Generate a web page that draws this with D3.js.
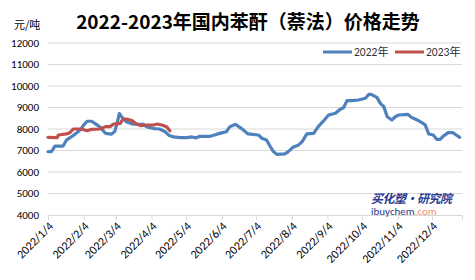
<!DOCTYPE html>
<html>
<head>
<meta charset="utf-8">
<script src="https://cdn.jsdelivr.net/npm/d3@7"></script>
<style>
    body { margin: 0; background: #fff; }
    text { font-family: Calibri, Carlito, "Liberation Sans", "Noto Sans CJK SC", sans-serif; }
</style>
</head>
<body>
<div id="chart"></div>
<script>
// 2022 series, month-day on the 2022 axis
const dates2022 = ['01-04','01-07','01-10','01-17','01-20','01-26','02-01','02-04','02-07','02-11','02-14','02-18','02-23','02-28','03-03','03-05','03-07','03-09','03-13','03-19','03-28','03-31','04-06','04-11','04-16','04-19','04-23','04-29','05-05','05-09','05-13','05-16','05-25','05-31','06-04','06-08','06-11','06-16','06-21','06-27','07-06','07-09','07-13','07-16','07-19','07-22','07-29','08-01','08-05','08-10','08-13','08-17','08-23','08-27','08-31','09-05','09-11','09-15','09-18','09-21','09-25','10-01','10-07','10-10','10-12','10-17','10-20','10-23','10-26','10-30','11-02','11-05','11-13','11-16','11-21','11-25','11-28','12-01','12-05','12-08','12-11','12-14','12-18','12-22','12-25','12-28']
const values2022 = [6950,6950,7200,7200,7480,7700,7950,8180,8360,8360,8250,8100,7800,7760,7880,8250,8720,8570,8340,8220,8220,8100,8020,8000,7870,7710,7630,7600,7600,7630,7590,7660,7660,7760,7820,7870,8100,8220,8030,7770,7720,7570,7490,7210,6950,6820,6840,6950,7150,7260,7410,7770,7800,8110,8340,8650,8730,8920,8990,9320,9320,9350,9430,9610,9610,9470,9190,9040,8570,8420,8570,8650,8680,8540,8420,8300,8190,7770,7720,7520,7520,7680,7830,7830,7720,7610]

// 2023 series, drawn on the same month-day axis
const dates2023 = ['01-04','01-12','01-13','01-20','01-23','01-26','02-02','02-07','02-11','02-18','02-23','02-27','03-02','03-08','03-10','03-13','03-18','03-22','03-26','03-31','04-06','04-09','04-13','04-17','04-20']
const values2023 = [7610,7600,7720,7770,7830,8000,8000,7920,7985,8000,8110,8110,8230,8265,8450,8465,8390,8230,8155,8186,8186,8230,8186,8110,7920]

const seriesNames = ['2022年', '2023年']
const seriesColors = ['#4f81bd', '#c0504d']
const yTicks = [4000,5000,6000,7000,8000,9000,10000,11000,12000]
const xTickLabels = ['2022/1/4','2022/2/4','2022/3/4','2022/4/4','2022/5/4','2022/6/4','2022/7/4','2022/8/4','2022/9/4','2022/10/4','2022/11/4','2022/12/4']

const W = 475, H = 280
const margin = { left: 48, right: 13, top: 43, bottom: 65 }

const parse = d3.timeParse('%Y-%m-%d')
const toDate = md => parse('2022-' + md)

const svg = d3.select('#chart').append('svg')
    .attr('width', W)
    .attr('height', H)

const x = d3.scaleTime()
    .domain([parse('2022-01-04'), parse('2022-12-30')])
    .range([margin.left, W - margin.right])

const y = d3.scaleLinear()
    .domain([4000, 12000])
    .range([H - margin.bottom, margin.top])

// gridlines
svg.append('g')
    .selectAll('line')
    .data(yTicks.slice(1))
    .join('line')
    .attr('x1', margin.left)
    .attr('x2', W - margin.right)
    .attr('y1', d => y(d))
    .attr('y2', d => y(d))
    .style('stroke', '#d9d9d9')
    .style('stroke-width', '1px')

// y labels
svg.append('g')
    .selectAll('text')
    .data(yTicks)
    .join('text')
    .attr('x', 39)
    .attr('y', d => y(d))
    .attr('dy', '0.35em')
    .attr('text-anchor', 'end')
    .style('font-size', '11px')
    .style('fill', '#000')
    .text(d => d)

// x axis
const tickDates = xTickLabels.map(s => d3.timeParse('%Y/%m/%d')(s))
const xAxis = d3.axisBottom(x)
    .tickValues(tickDates)
    .tickSize(5)
    .tickFormat('')

const gx = svg.append('g')
    .attr('transform', `translate(0, ${y(4000)})`)
    .call(xAxis)
gx.select('.domain').style('stroke', '#d9d9d9')
gx.selectAll('.tick line').style('stroke', '#d9d9d9')

svg.append('g')
    .selectAll('text')
    .data(tickDates)
    .join('text')
    .attr('transform', d => `translate(${x(d) + 6}, ${y(4000) + 12}) rotate(-45)`)
    .attr('text-anchor', 'end')
    .style('font-size', '12px')
    .style('fill', '#000')
    .text((d, i) => xTickLabels[i])

// lines
const line = d3.line()
    .x(d => x(d[0]))
    .y(d => y(d[1]))

const s2022 = dates2022.map((d, i) => [toDate(d), values2022[i]])
const s2023 = dates2023.map((d, i) => [toDate(d), values2023[i]])

svg.append('path')
    .datum(s2022)
    .attr('d', line)
    .style('fill', 'none')
    .style('stroke', seriesColors[0])
    .style('stroke-width', '3.2px')
    .style('stroke-linejoin', 'round')
    .style('stroke-linecap', 'round')

svg.append('path')
    .datum(s2023)
    .attr('d', line)
    .style('fill', 'none')
    .style('stroke', seriesColors[1])
    .style('stroke-width', '3.2px')
    .style('stroke-linejoin', 'round')
    .style('stroke-linecap', 'round')

// title
svg.append('text')
    .attr('x', 248)
    .attr('y', 29)
    .attr('text-anchor', 'middle')
    .style('font-size', '19px')
    .style('font-weight', 'bold')
    .style('font-family', '"Noto Sans CJK SC", sans-serif')
    .style('fill', '#000')
    .text('2022-2023年国内苯酐（萘法）价格走势')

svg.append('text')
    .attr('x', 14)
    .attr('y', 29)
    .style('font-size', '11px')
    .style('font-family', '"Noto Sans CJK SC", sans-serif')
    .style('fill', '#000')
    .text('元/吨')

// legend
const legendX = [323, 395]
seriesNames.forEach((name, i) => {
    svg.append('line')
        .attr('x1', legendX[i])
        .attr('x2', legendX[i] + 29)
        .attr('y1', 52)
        .attr('y2', 52)
        .style('stroke', seriesColors[i])
        .style('stroke-width', '3px')
    svg.append('text')
        .attr('x', legendX[i] + 31)
        .attr('y', 52)
        .attr('dy', '0.35em')
        .style('font-size', '11.5px')
        .style('fill', '#333')
        .text(name)
})

// watermark
svg.append('text')
    .attr('x', 371)
    .attr('y', 203)
    .attr('textLength', 81)
    .style('font-size', '12px')
    .style('font-weight', 'bold')
    .style('font-style', 'italic')
    .style('font-family', '"Noto Sans CJK SC", sans-serif')
    .style('fill', '#2b3990')
    .text('买化塑·研究院')

const wm = svg.append('text')
    .attr('x', 371)
    .attr('y', 215)
    .style('font-size', '11px')
    .style('fill', '#2b3990')
wm.append('tspan').text('ibuychem')
wm.append('tspan').style('fill', '#f08a7a').text('.com')
</script>
</body>
</html>
